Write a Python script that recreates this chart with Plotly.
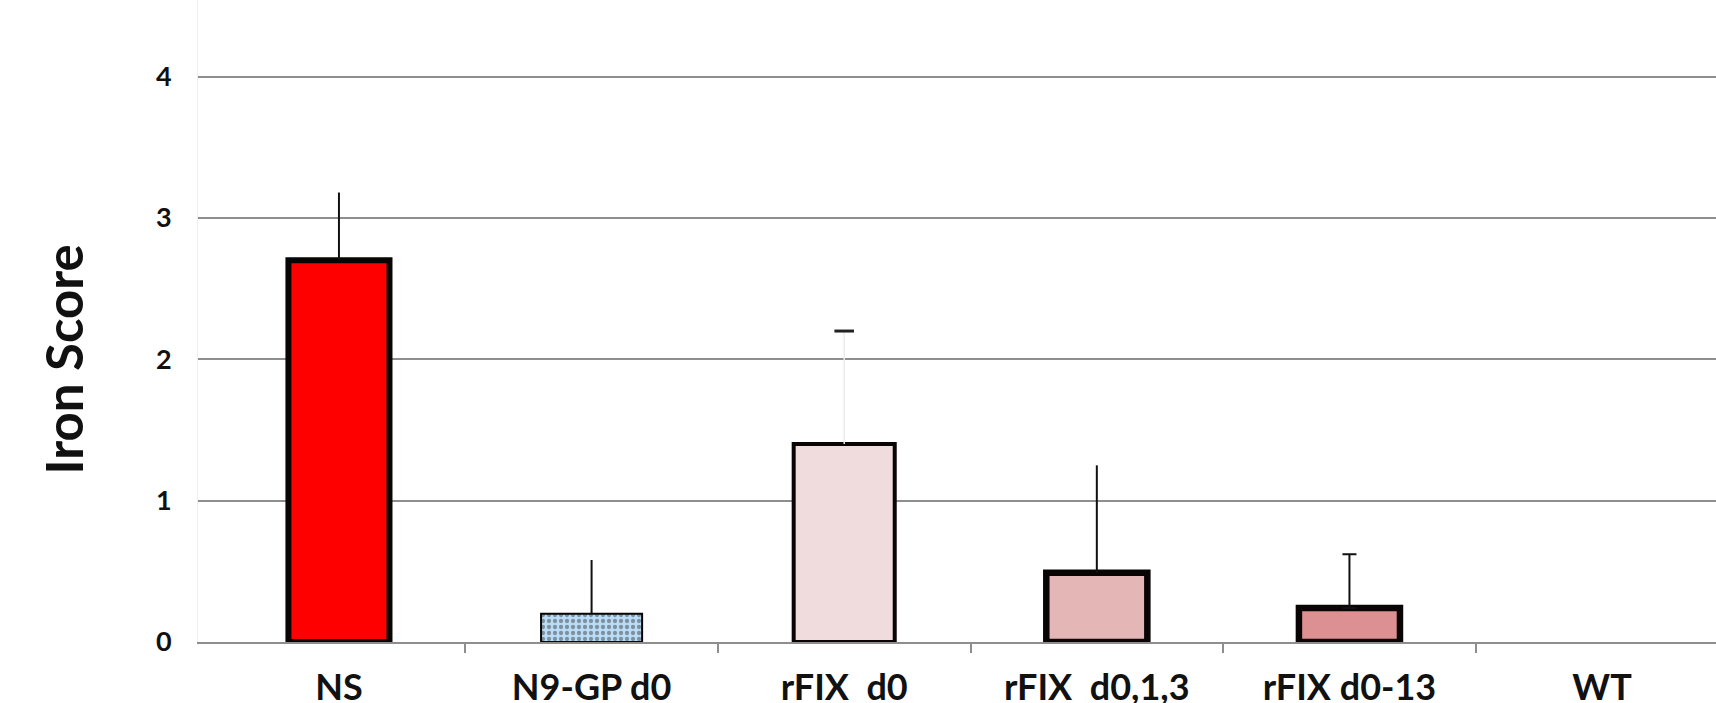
import plotly.graph_objects as go

# Iron score per treatment group (mean and upper SD)
groups = ["NS", "N9-GP d0", "rFIX  d0", "rFIX  d0,1,3", "rFIX d0-13", "WT"]
mean_score = [2.70, 0.20, 1.40, 0.49, 0.24, 0.0]
sd_score = [0.48, 0.38, 0.80, 0.76, 0.38, 0.0]

fill_colors = ["#ff0000", "#b9dcf7", "#f0dcdd", "#e5b6b6", "#dd9092", "#ffffff"]
border_widths = [6, 2, 4, 6.5, 6.5, 0]
patterns = ["", ".", "", "", "", ""]

FONT = "Lato"
GRID = "#8e8e8e"
X_RANGE = [-0.558, 5.451]

fig = go.Figure()

fig.add_trace(go.Bar(
    x=groups,
    y=mean_score,
    width=0.4,
    marker=dict(
        color=fill_colors,
        line=dict(color="#0a0505", width=border_widths),
        pattern=dict(shape=patterns, fgcolor="#1d3b6e", size=6, solidity=0.4),
    ),
    showlegend=False,
    hoverinfo="skip",
))

# Error bars: plain stems for most groups
stem_idx = [0, 1, 3]
fig.add_trace(go.Scatter(
    x=[groups[i] for i in stem_idx],
    y=[mean_score[i] for i in stem_idx],
    mode="markers",
    marker=dict(size=1, opacity=0),
    error_y=dict(type="data", symmetric=False,
                 array=[sd_score[i] for i in stem_idx],
                 arrayminus=[0] * len(stem_idx),
                 color="#111111", thickness=2, width=0),
    showlegend=False, hoverinfo="skip",
))

# Capped error bar for rFIX d0-13
fig.add_trace(go.Scatter(
    x=[groups[4]], y=[mean_score[4]],
    mode="markers", marker=dict(size=1, opacity=0),
    error_y=dict(type="data", symmetric=False, array=[sd_score[4]], arrayminus=[0],
                 color="#111111", thickness=2, width=7),
    showlegend=False, hoverinfo="skip",
))

# Faint stem with dark cap for rFIX d0
fig.add_trace(go.Scatter(
    x=[groups[2]], y=[mean_score[2]],
    mode="markers", marker=dict(size=1, opacity=0),
    error_y=dict(type="data", symmetric=False, array=[sd_score[2]], arrayminus=[0],
                 color="#ececec", thickness=1.5, width=0),
    showlegend=False, hoverinfo="skip",
))
fig.add_trace(go.Scatter(
    x=[groups[2]], y=[mean_score[2] + sd_score[2]],
    mode="markers",
    marker=dict(symbol="line-ew-open", size=14, color="#222222",
                line=dict(color="#222222", width=3)),
    showlegend=False, hoverinfo="skip",
))

# Tick marks between categories, on a numeric overlay axis
fig.add_trace(go.Scatter(
    x=[None], y=[None], xaxis="x2", mode="markers",
    showlegend=False, hoverinfo="skip",
))

fig.add_annotation(
    text="Iron Score", textangle=-90, showarrow=False,
    xref="paper", yref="paper", x=-0.0883, y=0.44,
    xanchor="center", yanchor="middle",
    font=dict(family=FONT, size=51, color="#111111", weight="bold"),
)

fig.update_layout(
    width=1716, height=703,
    margin=dict(l=198, r=0, t=0, b=61, autoexpand=False),
    paper_bgcolor="white", plot_bgcolor="white",
    xaxis=dict(
        range=X_RANGE, automargin=False,
        tickfont=dict(family=FONT, size=36, color="#111111", weight="bold"),
        showgrid=False, zeroline=False,
        showline=True, linecolor=GRID, linewidth=1.5,
        ticks="", ticklabelstandoff=13,
    ),
    xaxis2=dict(
        overlaying="x", side="bottom", anchor="y", automargin=False,
        range=X_RANGE,
        tickvals=[0.5, 1.5, 2.5, 3.5, 4.5],
        showticklabels=False, showgrid=False, zeroline=False, showline=False,
        ticks="outside", ticklen=10, tickwidth=1.5, tickcolor=GRID,
    ),
    yaxis=dict(
        range=[0, 4.542], automargin=False,
        tickvals=[0, 1, 2, 3, 4],
        tickfont=dict(family=FONT, size=27, color="#111111", weight="bold"),
        showgrid=True, gridcolor=GRID, gridwidth=1.5,
        zeroline=False,
        showline=True, linecolor="#eeeeee", linewidth=1,
        ticks="", ticklabelstandoff=20,
    ),
)

fig.write_html("out.html")
